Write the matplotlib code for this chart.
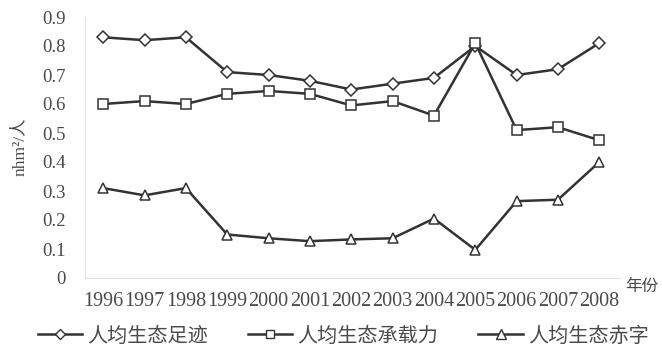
import numpy as np
import matplotlib.pyplot as plt
from matplotlib.lines import Line2D

plt.rcParams['font.family'] = ['Liberation Serif', 'Noto Sans CJK SC', 'DejaVu Sans']

# Data: per-capita ecological footprint, capacity and deficit (nhm2 per person)
years = ["1996", "1997", "1998", "1999", "2000", "2001", "2002",
         "2003", "2004", "2005", "2006", "2007", "2008"]
footprint = [0.83, 0.82, 0.83, 0.71, 0.70, 0.68, 0.65, 0.67, 0.69, 0.80, 0.70, 0.72, 0.81]
capacity = [0.60, 0.61, 0.60, 0.635, 0.645, 0.635, 0.595, 0.61, 0.56, 0.81, 0.51, 0.52, 0.475]
deficit = [0.31, 0.285, 0.31, 0.15, 0.137, 0.127, 0.133, 0.137, 0.205, 0.097, 0.265, 0.27, 0.40]
series_names = ["人均生态足迹", "人均生态承载力", "人均生态赤字"]
yticks = [0, 0.1, 0.2, 0.3, 0.4, 0.5, 0.6, 0.7, 0.8, 0.9]

line_color = "#333333"
text_color = "#4a4a4a"
markers = ["D", "s", "^"]
msizes = [6.5, 6.5, 7.5]

fig = plt.figure(figsize=(6.62, 3.46), dpi=100)
ax = fig.add_axes([85 / 662, 1 - 278 / 346, 535 / 662, 261 / 346])

x = np.arange(len(years))
for vals, m, ms in zip([footprint, capacity, deficit], markers, msizes):
    ax.plot(x, vals, color=line_color, lw=1.8, marker=m, markersize=ms,
            markerfacecolor="white", markeredgecolor=line_color, markeredgewidth=1.1)

ax.set_xlim(-0.44, 12.5)
ax.set_ylim(0, 0.9)
ax.set_yticks(yticks)
ax.set_yticklabels([("0" if v == 0 else f"{v:.1f}") for v in yticks], fontsize=13.5,
                   color=text_color)
ax.set_xticks(x)
ax.set_xticklabels(years, fontsize=14.5, color=text_color)
ax.tick_params(axis="y", length=0, pad=14)
ax.tick_params(axis="x", length=0, pad=10)

for side in ["top", "right"]:
    ax.spines[side].set_visible(False)
for side in ["left", "bottom"]:
    ax.spines[side].set_color("#e2e2e2")
    ax.spines[side].set_linewidth(0.8)

fig.text(20 / 662, 1 - 147 / 346, "nhm²/人", rotation=90, ha="center", va="center",
         fontsize=12.5, color=text_color, family=["Liberation Serif", "Noto Sans CJK SC"])
fig.text(642 / 662, 1 - 286 / 346, "年份", ha="center", va="center",
         fontsize=12, color=text_color, family=["Noto Sans CJK SC"])

handles = [Line2D([0], [0], color=line_color, lw=1.8, marker=m, markersize=ms - 1,
                  markerfacecolor="white", markeredgecolor=line_color)
           for m, ms in zip(markers, msizes)]
fig.legend(handles, series_names, loc="center", bbox_to_anchor=(343 / 662, 1 - 336 / 346),
           ncol=3, frameon=False, handlelength=2.2, handletextpad=0.25,
           columnspacing=2.0, prop={"family": "Noto Sans CJK SC", "size": 14.5},
           labelcolor=text_color)

fig.savefig("out.png", dpi=100)
